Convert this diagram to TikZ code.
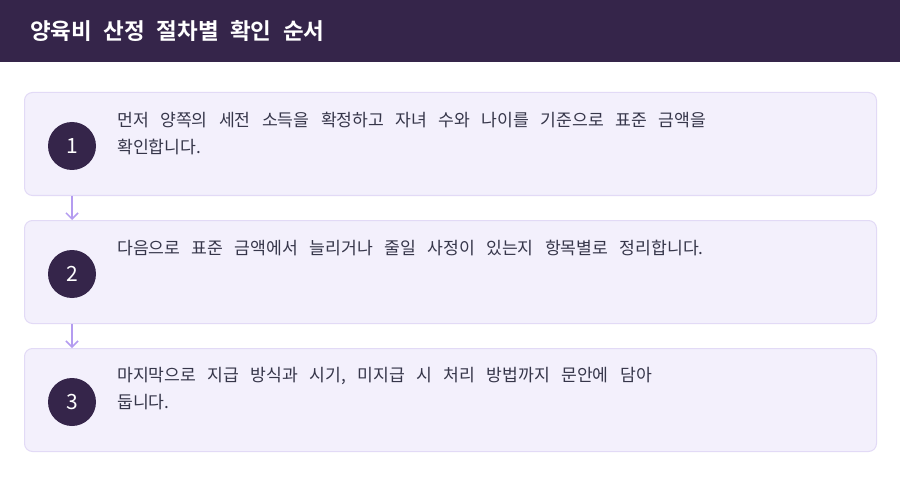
\documentclass[tikz,border=0pt]{standalone}
\usepackage{fontspec}
\setmainfont{Noto Sans CJK KR}
\newfontfamily\krbold{Noto Sans CJK KR Bold}
\usetikzlibrary{arrows.meta}
\definecolor{dark}{HTML}{35254A}
\definecolor{cardfill}{HTML}{F3F0FC}
\definecolor{carddraw}{HTML}{E2DAF6}
\definecolor{arrowc}{HTML}{B49CF0}
\definecolor{txt}{HTML}{36364A}
\newcommand\mybodyfont{\fontsize{17.2pt}{27pt}\selectfont\spaceskip 11.4pt plus 1pt minus 1pt\relax}
\newcommand\mytitlefont{\krbold\fontsize{22.5pt}{26pt}\selectfont\spaceskip 11.5pt\relax}
\tikzset{
  card/.style={draw=carddraw, fill=cardfill, line width=1pt, rounded corners=8pt, minimum width=852pt, minimum height=103pt, anchor=north west, inner sep=0pt},
  num/.style={circle, fill=dark, minimum size=48pt, inner sep=0pt, text=white, font=\fontsize{21pt}{24pt}\selectfont},
  body/.style={anchor=north west, text=txt, align=left, inner sep=0pt, font=\mybodyfont},
  flow/.style={draw=arrowc, line width=1.5pt, -{Straight Barb[length=6pt,width=12pt,line width=1.5pt]}}
}
\begin{document}
\begin{tikzpicture}[x=1pt,y=-1pt]
\useasboundingbox (0,0) rectangle (900,484);
\fill[white] (0,0) rectangle (900,484);
\fill[dark] (0,0) rectangle (900,62);
\node[anchor=west, text=white, inner sep=0pt, font=\mytitlefont] (title) at (30,31) {양육비 산정 절차별 확인 순서};

\node[card] (c1) at (24,92) {};
\node[card] (c2) at (24,220) {};
\node[card] (c3) at (24,348) {};

\node[num] (n1) at (72,146) {1};
\node[num] (n2) at (72,274) {2};
\node[num] (n3) at (72,402) {3};

\node[body] (t1) at (117,111.5) {먼저 양쪽의 세전 소득을 확정하고 자녀 수와 나이를 기준으로 표준 금액을\\확인합니다.};
\node[body] (t2) at (117,239.5) {다음으로 표준 금액에서 늘리거나 줄일 사정이 있는지 항목별로 정리합니다.};
\node[body] (t3) at (117,367.5) {마지막으로 지급 방식과 시기, 미지급 시 처리 방법까지 문안에 담아\\둡니다.};

\draw[flow] (c1.south west -| n1) -- (c2.north west -| n1);
\draw[flow] (c2.south west -| n2) -- (c3.north west -| n2);
\end{tikzpicture}
\end{document}
